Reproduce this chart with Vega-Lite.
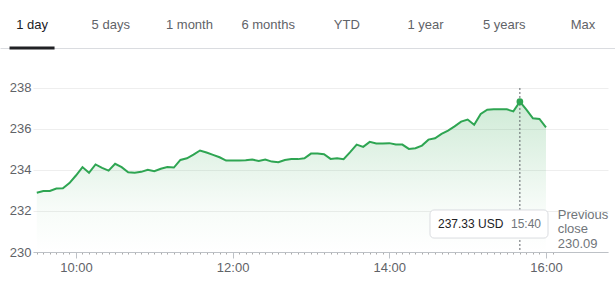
{
  "$schema": "https://vega.github.io/schema/vega-lite/v6.json",
  "width": 575,
  "height": 204,
  "autosize": {"type": "none"},
  "padding": {"left": 33, "top": 48, "right": 7, "bottom": 35},
  "background": "white",
  "config": {"view": {"stroke": null}, "font": "Liberation Sans, Arial, sans-serif"},
  "datasets": {
    "prices": [
      {"t": "2024-01-02T09:30", "price": 232.89},
      {"t": "2024-01-02T09:35", "price": 232.97},
      {"t": "2024-01-02T09:40", "price": 232.98},
      {"t": "2024-01-02T09:45", "price": 233.10},
      {"t": "2024-01-02T09:50", "price": 233.11},
      {"t": "2024-01-02T09:55", "price": 233.36},
      {"t": "2024-01-02T10:00", "price": 233.73},
      {"t": "2024-01-02T10:05", "price": 234.14},
      {"t": "2024-01-02T10:10", "price": 233.86},
      {"t": "2024-01-02T10:15", "price": 234.27},
      {"t": "2024-01-02T10:20", "price": 234.10},
      {"t": "2024-01-02T10:25", "price": 233.97},
      {"t": "2024-01-02T10:30", "price": 234.30},
      {"t": "2024-01-02T10:35", "price": 234.14},
      {"t": "2024-01-02T10:40", "price": 233.89},
      {"t": "2024-01-02T10:45", "price": 233.86},
      {"t": "2024-01-02T10:50", "price": 233.91},
      {"t": "2024-01-02T10:55", "price": 234.01},
      {"t": "2024-01-02T11:00", "price": 233.94},
      {"t": "2024-01-02T11:05", "price": 234.06},
      {"t": "2024-01-02T11:10", "price": 234.14},
      {"t": "2024-01-02T11:15", "price": 234.12},
      {"t": "2024-01-02T11:20", "price": 234.49},
      {"t": "2024-01-02T11:25", "price": 234.57},
      {"t": "2024-01-02T11:30", "price": 234.75},
      {"t": "2024-01-02T11:35", "price": 234.95},
      {"t": "2024-01-02T11:40", "price": 234.85},
      {"t": "2024-01-02T11:45", "price": 234.74},
      {"t": "2024-01-02T11:50", "price": 234.62},
      {"t": "2024-01-02T11:55", "price": 234.46},
      {"t": "2024-01-02T12:00", "price": 234.46},
      {"t": "2024-01-02T12:05", "price": 234.46},
      {"t": "2024-01-02T12:10", "price": 234.48},
      {"t": "2024-01-02T12:15", "price": 234.51},
      {"t": "2024-01-02T12:20", "price": 234.44},
      {"t": "2024-01-02T12:25", "price": 234.51},
      {"t": "2024-01-02T12:30", "price": 234.41},
      {"t": "2024-01-02T12:35", "price": 234.38},
      {"t": "2024-01-02T12:40", "price": 234.49},
      {"t": "2024-01-02T12:45", "price": 234.53},
      {"t": "2024-01-02T12:50", "price": 234.53},
      {"t": "2024-01-02T12:55", "price": 234.57},
      {"t": "2024-01-02T13:00", "price": 234.80},
      {"t": "2024-01-02T13:05", "price": 234.80},
      {"t": "2024-01-02T13:10", "price": 234.77},
      {"t": "2024-01-02T13:15", "price": 234.54},
      {"t": "2024-01-02T13:20", "price": 234.57},
      {"t": "2024-01-02T13:25", "price": 234.53},
      {"t": "2024-01-02T13:30", "price": 234.87},
      {"t": "2024-01-02T13:35", "price": 235.24},
      {"t": "2024-01-02T13:40", "price": 235.13},
      {"t": "2024-01-02T13:45", "price": 235.37},
      {"t": "2024-01-02T13:50", "price": 235.29},
      {"t": "2024-01-02T13:55", "price": 235.29},
      {"t": "2024-01-02T14:00", "price": 235.31},
      {"t": "2024-01-02T14:05", "price": 235.24},
      {"t": "2024-01-02T14:10", "price": 235.24},
      {"t": "2024-01-02T14:15", "price": 235.03},
      {"t": "2024-01-02T14:20", "price": 235.06},
      {"t": "2024-01-02T14:25", "price": 235.19},
      {"t": "2024-01-02T14:30", "price": 235.48},
      {"t": "2024-01-02T14:35", "price": 235.55},
      {"t": "2024-01-02T14:40", "price": 235.76},
      {"t": "2024-01-02T14:45", "price": 235.92},
      {"t": "2024-01-02T14:50", "price": 236.13},
      {"t": "2024-01-02T14:55", "price": 236.36},
      {"t": "2024-01-02T15:00", "price": 236.46},
      {"t": "2024-01-02T15:05", "price": 236.21},
      {"t": "2024-01-02T15:10", "price": 236.73},
      {"t": "2024-01-02T15:15", "price": 236.94},
      {"t": "2024-01-02T15:20", "price": 236.96},
      {"t": "2024-01-02T15:25", "price": 236.96},
      {"t": "2024-01-02T15:30", "price": 236.96},
      {"t": "2024-01-02T15:35", "price": 236.86},
      {"t": "2024-01-02T15:40", "price": 237.33},
      {"t": "2024-01-02T15:45", "price": 236.94},
      {"t": "2024-01-02T15:50", "price": 236.52},
      {"t": "2024-01-02T15:55", "price": 236.49},
      {"t": "2024-01-02T16:00", "price": 236.08}
    ],
    "tooltip": [{"price_label": "237.33 USD", "time_label": "15:40"}],
    "prevclose": [{"lines": ["Previous", "close", "230.09"]}],
    "tabs": [
      {"tab": "1 day"}, {"tab": "5 days"}, {"tab": "1 month"}, {"tab": "6 months"},
      {"tab": "YTD"}, {"tab": "1 year"}, {"tab": "5 years"}, {"tab": "Max"}
    ]
  },
  "layer": [
    {
      "layer": [
        {
          "data": {"name": "prices"},
          "mark": {
            "type": "area",
            "color": {
              "gradient": "linear", "x1": 0, "y1": 0, "x2": 0, "y2": 1,
              "stops": [
                {"offset": 0, "color": "rgba(52,168,83,0.34)"},
                {"offset": 0.7, "color": "rgba(52,168,83,0.06)"},
                {"offset": 1, "color": "rgba(52,168,83,0)"}
              ]
            },
            "line": {"color": "#2ea552", "strokeWidth": 2}
          },
          "encoding": {
            "x": {
              "field": "t", "type": "temporal",
              "scale": {"domain": [
                {"year": 2024, "month": 1, "date": 2, "hours": 9, "minutes": 27, "seconds": 6},
                {"year": 2024, "month": 1, "date": 2, "hours": 16, "minutes": 47, "seconds": 30}
              ]},
              "axis": {
                "title": null,
                "orient": "bottom",
                "grid": false,
                "tickCount": 88,
                "labels": false,
                "domainColor": "#bdc1c6",
                "tickColor": "#aaaaaa",
                "tickSize": 2,
                "tickOpacity": {"condition": {"test": "hours(datum.value) * 60 + minutes(datum.value) > 965", "value": 0}, "value": 1}
              }
            },
            "y": {
              "field": "price", "type": "quantitative",
              "scale": {"domain": [230, 239.95], "zero": false, "nice": false},
              "axis": {
                "title": null,
                "values": [230, 232, 234, 236, 238],
                "grid": true,
                "gridColor": "#eeeeee",
                "domain": false,
                "ticks": false,
                "labelPadding": 2,
                "labelFontSize": 13,
                "labelColor": "#5f6368"
              }
            },
            "y2": {"datum": 230}
          }
        },
        {
          "data": {"name": "prices"},
          "transform": [{"filter": "datum.price === 237.33"}],
          "mark": {"type": "rule", "color": "#5f6368", "strokeDash": [2, 2], "strokeWidth": 1},
          "encoding": {
            "x": {
              "field": "t", "type": "temporal",
              "axis": {
                "title": null,
                "orient": "bottom",
                "grid": false,
                "domain": false,
                "values": [
                  {"year": 2024, "month": 1, "date": 2, "hours": 10},
                  {"year": 2024, "month": 1, "date": 2, "hours": 12},
                  {"year": 2024, "month": 1, "date": 2, "hours": 14},
                  {"year": 2024, "month": 1, "date": 2, "hours": 16}
                ],
                "format": "%H:%M",
                "labelFlush": false,
                "labelOverlap": false,
                "labelFontSize": 13,
                "labelColor": "#5f6368",
                "labelPadding": 3,
                "tickColor": "#bdc1c6",
                "tickSize": 6
              }
            },
            "y": {"datum": 238, "type": "quantitative"},
            "y2": {"datum": 230}
          }
        },
        {
          "data": {"name": "prices"},
          "transform": [{"filter": "datum.price === 237.33"}],
          "mark": {"type": "point", "filled": true, "opacity": 1, "color": "#2ea552", "size": 45},
          "encoding": {
            "x": {"field": "t", "type": "temporal", "axis": null},
            "y": {"field": "price", "type": "quantitative"}
          }
        },
        {
          "data": {"name": "tooltip"},
          "mark": {"type": "rect", "fill": "white", "stroke": "#dadce0", "strokeWidth": 1, "cornerRadius": 4},
          "encoding": {
            "x": {"datum": {"year": 2024, "month": 1, "date": 2, "hours": 14, "minutes": 31, "seconds": 10}, "type": "temporal", "axis": null},
            "x2": {"datum": {"year": 2024, "month": 1, "date": 2, "hours": 16, "minutes": 1, "seconds": 33}},
            "y": {"datum": 232.05, "type": "quantitative"},
            "y2": {"datum": 230.68}
          }
        },
        {
          "data": {"name": "tooltip"},
          "mark": {"type": "text", "align": "left", "baseline": "middle", "fontSize": 12, "fontWeight": "normal", "color": "#202124"},
          "encoding": {
            "x": {"datum": {"year": 2024, "month": 1, "date": 2, "hours": 14, "minutes": 37, "seconds": 18}, "type": "temporal", "axis": null},
            "y": {"datum": 231.37, "type": "quantitative"},
            "text": {"field": "price_label", "type": "nominal"}
          }
        },
        {
          "data": {"name": "tooltip"},
          "mark": {"type": "text", "align": "left", "baseline": "middle", "fontSize": 12, "fontWeight": "normal", "color": "#70757a"},
          "encoding": {
            "x": {"datum": {"year": 2024, "month": 1, "date": 2, "hours": 15, "minutes": 33, "seconds": 12}, "type": "temporal", "axis": null},
            "y": {"datum": 231.37, "type": "quantitative"},
            "text": {"field": "time_label", "type": "nominal"}
          }
        },
        {
          "data": {"name": "prevclose"},
          "mark": {"type": "text", "align": "left", "baseline": "middle", "fontSize": 13, "fontWeight": "normal", "lineHeight": 14.3, "color": "#70757a"},
          "encoding": {
            "x": {"datum": {"year": 2024, "month": 1, "date": 2, "hours": 16, "minutes": 8, "seconds": 59}, "type": "temporal", "axis": null},
            "y": {"datum": 231.80, "type": "quantitative"},
            "text": {"field": "lines", "type": "nominal"}
          }
        }
      ],
      "resolve": {"axis": {"x": "independent"}}
    },
    {
      "data": {"name": "tabs"},
      "transform": [{"filter": "datum.tab === '1 day'"}],
      "mark": {"type": "bar", "color": "#202124"},
      "encoding": {
        "x": {
          "field": "tab", "type": "nominal", "sort": null,
          "scale": {
            "type": "band",
            "domain": ["1 day", "5 days", "1 month", "6 months", "YTD", "1 year", "5 years", "Max"],
            "range": [-33, 582],
            "paddingInner": 0.428,
            "paddingOuter": 0.121
          },
          "axis": {
            "orient": "top",
            "title": null,
            "ticks": false,
            "tickSize": 0,
            "domain": true,
            "domainColor": "#dadce0",
            "labelAngle": 0,
            "labelPadding": 17,
            "labelFontSize": 13,
            "labelOverlap": false,
            "labelColor": {"condition": {"test": "datum.value === '1 day'", "value": "#202124"}, "value": "#5f6368"}
          }
        },
        "y": {"datum": 240.02, "type": "quantitative", "axis": null},
        "y2": {"datum": 239.88}
      }
    }
  ],
  "resolve": {"scale": {"x": "independent"}, "axis": {"y": "independent"}}
}
